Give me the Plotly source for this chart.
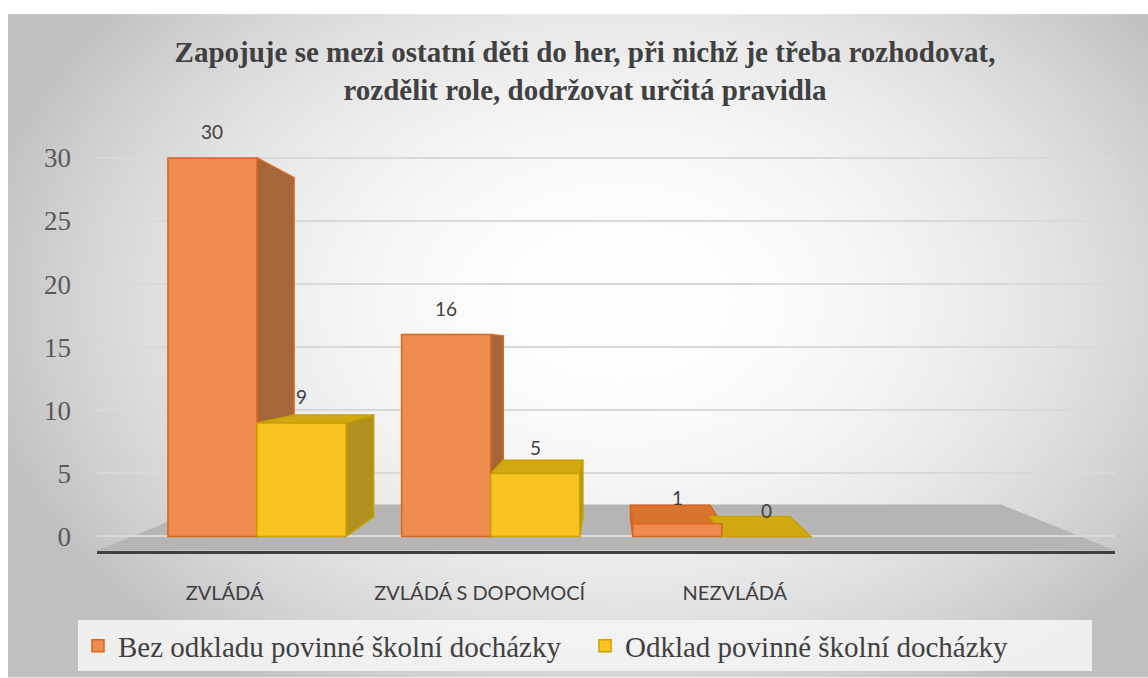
import base64, struct, zlib
import numpy as np
import plotly.graph_objects as go

# ---- data ----
categories = ["ZVLÁDÁ", "ZVLÁDÁ S DOPOMOCÍ", "NEZVLÁDÁ"]
series_names = ["Bez odkladu povinné školní docházky", "Odklad povinné školní docházky"]
bez_odkladu = [30, 16, 1]
odklad = [9, 5, 0]
y_ticks = [0, 5, 10, 15, 20, 25, 30]
title_text = "Zapojuje se mezi ostatní děti do her, při nichž je třeba rozhodovat,<br>rozdělit role, dodržovat určitá pravidla"

W, H = 1148, 678
L, R, T, B = 97, 33, 139, 126.5
PW, PH = W - L - R, H - T - B
X_RANGE = [-0.5, 3.49]
Y_RANGE = [-1.15, 31.5]

def x2px(v): return L + (v - X_RANGE[0]) / (X_RANGE[1] - X_RANGE[0]) * PW
def px2x(p): return X_RANGE[0] + (p - L) / PW * (X_RANGE[1] - X_RANGE[0])
def y2px(v): return T + (Y_RANGE[1] - v) / (Y_RANGE[1] - Y_RANGE[0]) * PH
def px2y(p): return Y_RANGE[1] - (p - T) / PH * (Y_RANGE[1] - Y_RANGE[0])

# ---- radial gray background as PNG ----
def make_png(arr):
    h, w = arr.shape
    raw = b"".join(b"\x00" + arr[i].tobytes() for i in range(h))
    def chunk(tag, data):
        c = struct.pack(">I", len(data)) + tag + data
        return c + struct.pack(">I", zlib.crc32(tag + data) & 0xffffffff)
    png = b"\x89PNG\r\n\x1a\n"
    png += chunk(b"IHDR", struct.pack(">IIBBBBB", w, h, 8, 0, 0, 0, 0))
    png += chunk(b"IDAT", zlib.compress(raw, 9))
    png += chunk(b"IEND", b"")
    return "data:image/png;base64," + base64.b64encode(png).decode()

gw, gh = 287, 166
xs = np.linspace(8, W, gw)
ys = np.linspace(14, H, gh)
Xg, Yg = np.meshgrid(xs, ys)
rr = np.sqrt(((Xg - 620) / 600) ** 2 + ((Yg - 300) / 430) ** 2)
val = 255 - 52 * np.clip(rr, 0, 1.1) ** 2
bg = make_png(np.clip(val, 0, 255).astype(np.uint8))

# ---- figure ----
orange_fill, orange_line = "#EE8C50", "#D9651F"
yellow_fill, yellow_line = "#F9C322", "#C9A000"
x_pos = list(range(len(categories)))
bar_w = 0.349
off_orange = [-0.222, -0.306, -0.40]
off_yellow = [o + bar_w for o in off_orange]

fig = go.Figure()
fig.add_trace(go.Bar(
    x=x_pos, y=bez_odkladu, name=series_names[0],
    width=bar_w, offset=off_orange,
    marker=dict(color=orange_fill, line=dict(color=orange_line, width=1.5)),
))
fig.add_trace(go.Bar(
    x=x_pos, y=odklad, name=series_names[1],
    width=bar_w, offset=off_yellow,
    marker=dict(color=yellow_fill, line=dict(color=yellow_line, width=1.5)),
))

# data labels above front faces
for vals, offs in ((bez_odkladu, off_orange), (odklad, off_yellow)):
    for i, v in enumerate(vals):
        fig.add_annotation(x=x_pos[i] + offs[i] + bar_w / 2, y=v, text=str(v),
                           showarrow=False, yanchor="middle", yshift=26,
                           font=dict(family="Lato", size=19, color="#404040"))

# pseudo-3D faces (perspective toward a vanishing point)
VX, VY, K = 610, 347.5, 0.105
def back(px, py):
    return px + K * (VX - px), py + K * (VY - py)

def path(pts):
    return "M " + " L ".join(f"{px2x(a):.4f} {px2y(b):.4f}" for a, b in pts) + " Z"

faces = [dict(side="#A5663A", top="#D9742E", line=orange_line),
         dict(side="#B0901E", top="#D2A812", line=yellow_line)]
for s, (vals, offs) in enumerate(((bez_odkladu, off_orange), (odklad, off_yellow))):
    for i, v in enumerate(vals):
        fl, fr = x2px(x_pos[i] + offs[i]), x2px(x_pos[i] + offs[i] + bar_w)
        fb, ft = y2px(0), y2px(v)
        blt, brt, brb, blb = back(fl, ft), back(fr, ft), back(fr, fb), back(fl, fb)
        if fr < VX:
            pts = [(fr, ft), brt, brb, (fr, fb)]
        else:
            pts = [(fl, ft), blt, blb, (fl, fb)]
        fig.add_shape(type="path", xref="x", yref="y", layer="between", path=path(pts),
                      fillcolor=faces[s]["side"], line=dict(color=faces[s]["line"], width=1.5))
        if ft > VY:
            pts = [(fl, ft), (fr, ft), brt, blt]
            fig.add_shape(type="path", xref="x", yref="y", layer="between", path=path(pts),
                          fillcolor=faces[s]["top"], line=dict(color=faces[s]["line"], width=1.5))

# gray floor
floor_px = [(97, 551), (211, 505), (1001, 505), (1115, 551)]
fig.add_shape(type="path", xref="x", yref="y", layer="below", path=path(floor_px),
              fillcolor="#B5B5B5", line=dict(width=0))

fig.add_layout_image(dict(
    source=bg, xref="paper", yref="paper",
    x=(8 - L) / PW, y=(H - B - 14) / PH,
    sizex=(W - 8) / PW, sizey=(H - 14) / PH,
    sizing="stretch", layer="below", xanchor="left", yanchor="top",
))

fig.update_layout(
    width=W, height=H,
    margin=dict(l=L, r=R, t=T, b=B, autoexpand=False),
    paper_bgcolor="white", plot_bgcolor="rgba(0,0,0,0)",
    barmode="group",
    title=dict(text=title_text, x=(585 - L) / PW, xref="paper", xanchor="center",
               y=1 - 62 / H, yref="container", yanchor="top",
               font=dict(family="Liberation Serif", size=29, color="#404040", weight="bold")),
    xaxis=dict(range=X_RANGE, tickvals=x_pos, ticktext=categories,
               showgrid=False, zeroline=False, showline=True, linecolor="#404040", linewidth=3,
               ticks="", ticklabelstandoff=22,
               tickfont=dict(family="Lato", size=20, color="#404040")),
    yaxis=dict(range=Y_RANGE, tickvals=y_ticks, showgrid=True, gridcolor="#D9D9D9",
               gridwidth=2, zeroline=False, showline=False, ticks="", ticklabelstandoff=25,
               tickfont=dict(family="Liberation Serif", size=27, color="#595959")),
    legend=dict(orientation="h", x=(585 - L) / PW, xanchor="center",
                y=(H - B - 621) / PH, yanchor="top",
                bgcolor="rgba(243,243,243,0.92)", entrywidth=462,
                font=dict(family="Liberation Serif", size=29, color="#404040")),
    showlegend=True,
)

fig.write_html("out.html", config={"displayModeBar": False},
               post_script="document.body.style.margin='0';document.body.style.overflow='hidden';")
